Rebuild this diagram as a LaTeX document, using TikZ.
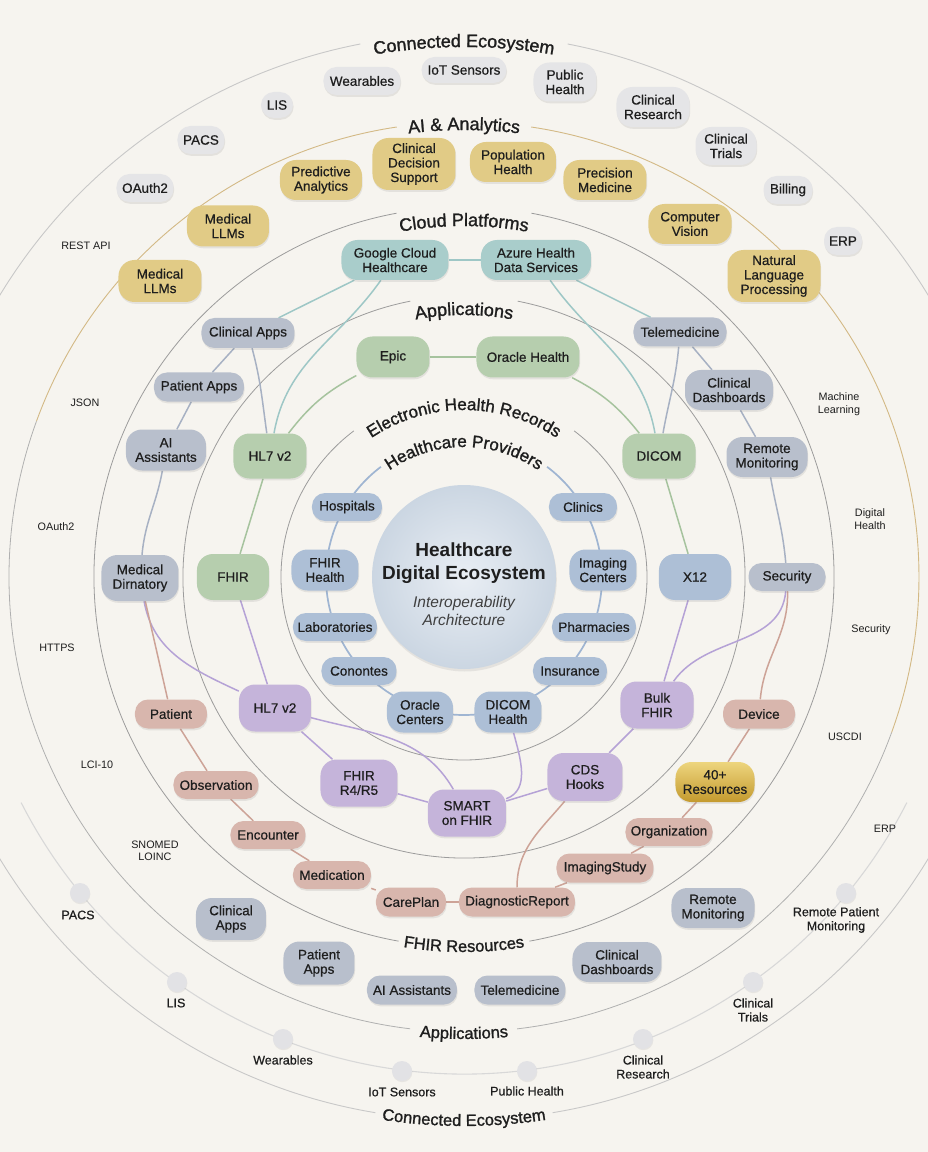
\documentclass[tikz,border=0pt]{standalone}
\usepackage{fontspec}
\setmainfont{Liberation Sans}
\setsansfont{Liberation Sans}
\newfontface\ringface{Liberation Sans}[RawFeature={embolden=1.3}]
\newfontface\ndface{Liberation Sans}[RawFeature={embolden=0.6}]
\usetikzlibrary{shadows}

\definecolor{bgcol}{HTML}{F6F4EF}
\definecolor{txt}{HTML}{1E1E1E}
\definecolor{provfill}{HTML}{ADBFD6}
\definecolor{provline}{HTML}{9FB5D2}
\definecolor{greenfill}{HTML}{B6CEAE}
\definecolor{greenline}{HTML}{A6C39E}
\definecolor{tealfill}{HTML}{A9CDCB}
\definecolor{tealline}{HTML}{9EC7C6}
\definecolor{appfill}{HTML}{B8BFCC}
\definecolor{appline}{HTML}{A7B1C3}
\definecolor{aifill}{HTML}{E1CB86}
\definecolor{ecofill}{HTML}{E5E5E7}
\definecolor{purfill}{HTML}{C5B4DA}
\definecolor{purline}{HTML}{B5A2D6}
\definecolor{resfill}{HTML}{D8B6AD}
\definecolor{resline}{HTML}{CDA397}
\definecolor{goldA}{HTML}{EDD57E}
\definecolor{goldB}{HTML}{C49A2E}
\definecolor{ringgray}{HTML}{9C9C9C}
\definecolor{ringlight}{HTML}{C8C8C8}
\definecolor{ringtan}{HTML}{D3B985}
\definecolor{dotring}{HTML}{D8D8D8}
\definecolor{hubin}{HTML}{E9EEF4}
\definecolor{hubout}{HTML}{CBD6E2}
\definecolor{dotfill}{HTML}{E2E2E5}

\newcommand{\myNodeFont}{\ndface\fontsize{13.5}{14.5}\selectfont}
\newcommand{\mySmallFont}{\fontsize{10.8}{12.5}\selectfont}
\newcommand{\myDotFont}{\ndface\fontsize{12.5}{14}\selectfont}
\newcommand{\myTopLab}{\ringface\fontsize{18}{18}\selectfont}
\newcommand{\myInLab}{\ringface\fontsize{17}{17}\selectfont}
\newcommand{\myBotLab}{\ringface\fontsize{16.5}{16.5}\selectfont}
\newcommand{\mknd}[6]{\node[#1,minimum width=#2pt,minimum height=#3pt] (#4) at (#5) {#6};}

% curved text: #1 font, #2 baseline radius, #3 centre angle, #4 1=top / -1=bottom, #5 text (~ = space)
\makeatletter
\newdimen\ct@w
\def\ct@stop{\ct@stop@}
\newcommand\curvetext[5]{%
  \def\ct@font{#1}\def\ct@r{#2}\def\ct@dir{#4}%
  \setbox0\hbox{\pgfinterruptpicture#1#5\endpgfinterruptpicture}\ct@w=\wd0\relax
  \pgfmathsetmacro\ct@ang{#3+(#4)*(\ct@w/(#2))*90/pi}%
  \ct@loop#5\ct@stop}
\def\ct@loop#1{%
  \ifx#1\ct@stop\else
    \setbox0\hbox{\pgfinterruptpicture\ct@font #1\endpgfinterruptpicture}\ct@w=\wd0\relax
    \pgfmathsetmacro\ct@mid{\ct@ang-(\ct@dir)*(\ct@w/\ct@r)*90/pi}%
    \pgfmathsetmacro\ct@rot{\ct@mid-90*(\ct@dir)}%
    \node[rotate=\ct@rot, anchor=base, inner sep=0pt, outer sep=0pt, font=\ct@font, text=txt] at (\ct@mid:\ct@r) {#1};%
    \pgfmathsetmacro\ct@ang{\ct@ang-(\ct@dir)*(\ct@w/\ct@r)*180/pi}%
    \expandafter\ct@loop
  \fi}
\makeatother

\pgfdeclarelayer{bg}
\pgfdeclarelayer{rings}
\pgfdeclarelayer{links}
\pgfsetlayers{bg,rings,links,main}

\tikzset{
  pill/.style={rectangle, rounded corners=13pt, inner sep=0pt, align=center,
    font=\myNodeFont, text=txt,
    drop shadow={opacity=0.16, shadow xshift=0.6pt, shadow yshift=-1.8pt}},
  tall/.style={rounded corners=16pt},
  prov/.style={pill, fill=provfill},
  grn/.style={pill, fill=greenfill},
  tealnd/.style={pill, fill=tealfill},
  app/.style={pill, fill=appfill},
  ainode/.style={pill, fill=aifill},
  eco/.style={pill, fill=ecofill},
  pur/.style={pill, fill=purfill},
  res/.style={pill, fill=resfill},
  goldnd/.style={pill, top color=goldA, bottom color=goldB},
  plainlab/.style={align=center, font=\mySmallFont, text=txt, inner sep=0pt},
  dotlab/.style={align=center, font=\myDotFont, text=txt, inner sep=0pt},
  dotnd/.style={circle, minimum size=20pt, inner sep=0pt, fill=dotfill,
    drop shadow={opacity=0.12, shadow xshift=0.4pt, shadow yshift=-1.2pt}},
  ringG/.style={draw=ringgray, line width=0.8pt},
  ringO/.style={draw=ringlight, line width=0.9pt},
  ringT/.style={draw=ringtan, line width=0.9pt},
  ringTg/.style={draw=ringgray!80, line width=0.8pt},
  ringD/.style={draw=dotring, line width=1.1pt},
  lk/.style={line width=1.5pt},
  lkprov/.style={lk, draw=provline, line width=1.7pt},
  lkgreen/.style={lk, draw=greenline},
  lkteal/.style={lk, draw=tealline},
  lkapp/.style={lk, draw=appline},
  lkpur/.style={lk, draw=purline},
  lkres/.style={lk, draw=resline}
}

\begin{document}
\begin{tikzpicture}[x=1pt,y=1pt]
\useasboundingbox (-464,-575) rectangle (464,577);
\begin{pgfonlayer}{bg}
  \fill[bgcol] (-464,-575) rectangle (464,577);
\end{pgfonlayer}

% ---------------- rings ----------------
\begin{pgfonlayer}{rings}
  \draw[ringO] (79:543) arc[start angle=79, end angle=-80.6, radius=543];
  \draw[ringO] (101:543) arc[start angle=101, end angle=260.6, radius=543];
  \draw[ringD] (207:497) arc[start angle=207, end angle=333, radius=497];
  \draw[ringT] (81.5:455) arc[start angle=81.5, end angle=-20, radius=455];
  \draw[ringTg] (-20:455) arc[start angle=-20, end angle=-83.3, radius=455];
  \draw[ringT] (98.5:455) arc[start angle=98.5, end angle=160, radius=455];
  \draw[ringTg] (160:455) arc[start angle=160, end angle=263.2, radius=455];
  \draw[ringG] (79.5:370) arc[start angle=79.5, end angle=-79.8, radius=370];
  \draw[ringG] (100.5:370) arc[start angle=100.5, end angle=259.8, radius=370];
  \draw[ringG] (79:281) arc[start angle=79, end angle=-259, radius=281];
  \draw[ringG] (53:183) arc[start angle=53, end angle=-233, radius=183];
  \draw[lkprov] (53:138) arc[start angle=53, end angle=-233, radius=138];
\end{pgfonlayer}

% ring labels
\curvetext{\myTopLab}{530}{90}{1}{Connected~Ecosystem}
\curvetext{\myTopLab}{447}{90}{1}{AI~\&~Analytics}
\curvetext{\myTopLab}{351}{90}{1}{Cloud~Platforms}
\curvetext{\myTopLab}{262}{90}{1}{Applications}
\curvetext{\myInLab}{167}{90}{1}{Electronic~Health~Records}
\curvetext{\myInLab}{130}{90}{1}{Healthcare~Providers}
\curvetext{\myBotLab}{375}{270}{-1}{FHIR~Resources}
\curvetext{\myBotLab}{462}{270}{-1}{Applications}
\curvetext{\myBotLab}{549}{270}{-1}{Connected~Ecosystem}

% ---------------- hub ----------------
\node[circle, minimum size=184pt, inner sep=0pt, inner color=hubin, outer color=hubout,
  drop shadow={opacity=0.15, shadow xshift=0.8pt, shadow yshift=-2.5pt}] (hub) at (0,0) {};
\node[align=center, font=\fontsize{19}{23}\selectfont\bfseries, text=txt] (title) at (0,13.5) {Healthcare\\Digital Ecosystem};
\node[align=center, font=\fontsize{15.5}{18}\selectfont\itshape, text=txt!85] (subtitle) at (0,-34) {Interoperability\\Architecture};

% ---------------- providers ----------------
\mknd{prov}{70}{28}{hosp}{-117,70}{Hospitals}
\mknd{prov}{68}{28}{clin}{119,70}{Clinics}
\mknd{prov,tall}{67}{41}{fhirh}{-139,7}{FHIR\\Health}
\mknd{prov,tall}{67}{41}{imgc}{139,7}{Imaging\\Centers}
\mknd{prov}{84}{28}{labs}{-129,-50}{Laboratories}
\mknd{prov}{84}{28}{pharm}{130,-50}{Pharmacies}
\mknd{prov}{75}{28}{conon}{-105,-94}{Conontes}
\mknd{prov}{74}{28}{insur}{106,-94}{Insurance}
\mknd{prov,tall}{66}{41}{orac}{-44,-135}{Oracle\\Centers}
\mknd{prov,tall}{67}{41}{dicomh}{44,-135}{DICOM\\Health}

% ---------------- EHR / applications ring ----------------
\mknd{grn,tall}{73}{41}{gEpic}{-71,220}{Epic}
\mknd{grn,tall}{103}{41}{gOH}{64,220}{Oracle Health}
\mknd{grn,tall}{73}{45}{gHL7}{-194,121}{HL7 v2}
\mknd{grn,tall}{73}{45}{gDICOM}{195,121}{DICOM}
\mknd{grn,tall}{72}{46}{gFHIR}{-231,0}{FHIR}
\mknd{prov,tall}{72}{46}{bX12}{231,0}{X12}

% ---------------- FHIR standards (purple) ----------------
\mknd{pur,tall}{72}{47}{uHL7}{-189,-131}{HL7 v2}
\mknd{pur,tall}{77}{47}{uR45}{-105,-206}{FHIR\\R4/R5}
\mknd{pur,tall}{78}{47}{uSMART}{3,-236}{SMART\\on FHIR}
\mknd{pur,tall}{75}{48}{uCDS}{121,-200}{CDS\\Hooks}
\mknd{pur,tall}{73}{47}{uBulk}{193,-128}{Bulk\\FHIR}

% ---------------- cloud ----------------
\mknd{tealnd,tall}{107}{40}{cGoogle}{-69,317}{Google Cloud\\Healthcare}
\mknd{tealnd,tall}{110}{40}{cAzure}{72,317}{Azure Health\\Data Services}

% ---------------- apps (gray) ----------------
\mknd{app}{93}{30}{pCA}{-216,244}{Clinical Apps}
\mknd{app}{90}{29}{pPA}{-265,190}{Patient Apps}
\mknd{app,tall}{80}{41}{pAI}{-298,127}{AI\\Assistants}
\mknd{app,tall}{77}{46}{pMD}{-324,-1}{Medical\\Dirnatory}
\mknd{app}{93}{29}{pTele}{216,245}{Telemedicine}
\mknd{app,tall}{88}{40}{pCD}{265,187}{Clinical\\Dashboards}
\mknd{app,tall}{81}{40}{pRM}{303,120}{Remote\\Monitoring}
\mknd{app}{77}{28}{pSec}{323,0}{Security}

\mknd{app,tall}{70}{42}{bCA}{-233,-342}{Clinical\\Apps}
\mknd{app,tall}{71}{43}{bPA}{-145,-386}{Patient\\Apps}
\mknd{app}{90}{29}{bAI}{-52,-413}{AI Assistants}
\mknd{app}{91}{29}{bTele}{56,-413}{Telemedicine}
\mknd{app,tall}{89}{40}{bCD}{153,-385}{Clinical\\Dashboards}
\mknd{app,tall}{83}{40}{bRM}{249,-331}{Remote\\Monitoring}

% ---------------- FHIR resources ----------------
\mknd{res}{72}{29}{rPat}{-293,-137}{Patient}
\mknd{res}{85}{28}{rObs}{-248,-208}{Observation}
\mknd{res}{75}{28}{rEnc}{-196,-258}{Encounter}
\mknd{res}{78}{28}{rMed}{-132,-298}{Medication}
\mknd{res}{70}{29}{rCare}{-53,-325}{CarePlan}
\mknd{res}{116}{29}{rDiag}{53,-325}{DiagnosticReport}
\mknd{res}{97}{29}{rImg}{141,-291}{ImagingStudy}
\mknd{res}{87}{28}{rOrg}{205,-255}{Organization}
\mknd{goldnd,tall}{79}{40}{r40}{251,-205}{40+\\Resources}
\mknd{res}{72}{29}{rDev}{295,-137}{Device}

% ---------------- AI & Analytics ----------------
\mknd{ainode,tall}{82}{40}{aPred}{-143,397}{Predictive\\Analytics}
\mknd{ainode,tall}{83}{52}{aCDS}{-50,413}{Clinical\\Decision\\Support}
\mknd{ainode,tall}{86}{40}{aPop}{49,415}{Population\\Health}
\mknd{ainode,tall}{83}{40}{aPrec}{141,397}{Precision\\Medicine}
\mknd{ainode,tall}{82}{41}{aLLMa}{-236,351}{Medical\\LLMs}
\mknd{ainode,tall}{83}{40}{aCV}{226,353}{Computer\\Vision}
\mknd{ainode,tall}{83}{42}{aLLMb}{-304,296}{Medical\\LLMs}
\mknd{ainode,tall}{93}{52}{aNLP}{310,301}{Natural\\Language\\Processing}

% ---------------- Connected ecosystem (top) ----------------
\mknd{eco}{77}{28}{eWear}{-102,496}{Wearables}
\mknd{eco}{85}{26}{eIoT}{0,507}{IoT Sensors}
\mknd{eco,tall}{63}{39}{ePub}{101,495}{Public\\Health}
\mknd{eco}{32}{26}{eLIS}{-187,472}{LIS}
\mknd{eco,tall}{73}{40}{eCR}{189,470}{Clinical\\Research}
\mknd{eco}{47}{28}{ePACS}{-263,437}{PACS}
\mknd{eco,tall}{61}{38}{eCT}{262,431}{Clinical\\Trials}
\mknd{eco}{57}{28}{eOAuth}{-319,389}{OAuth2}
\mknd{eco}{49}{28}{eBill}{324,387}{Billing}
\mknd{eco}{38}{28}{eERP}{379,336}{ERP}

% ---------------- plain labels ----------------
\node[plainlab] (tREST) at (-378,331) {REST API};
\node[plainlab] (tJSON) at (-379,174) {JSON};
\node[plainlab] (tOAuth) at (-408,50) {OAuth2};
\node[plainlab] (tHTTPS) at (-407,-71) {HTTPS};
\node[plainlab] (tLCI) at (-367,-188) {LCI-10};
\node[plainlab] (tSNOMED) at (-309,-274) {SNOMED\\LOINC};
\node[plainlab] (tML) at (375,173) {Machine\\Learning};
\node[plainlab] (tDH) at (406,58) {Digital\\Health};
\node[plainlab] (tSec) at (407,-53) {Security};
\node[plainlab] (tUSCDI) at (381,-160) {USCDI};
\node[plainlab] (tERP) at (421,-252) {ERP};

% ---------------- dots (bottom) ----------------
\node[dotnd] (dPACS) at (-384,-316) {};
\node[dotnd] (dLIS) at (-287,-405) {};
\node[dotnd] (dWear) at (-181,-462) {};
\node[dotnd] (dIoT) at (-62,-494) {};
\node[dotnd] (dPub) at (63,-494) {};
\node[dotnd] (dCR) at (179,-462) {};
\node[dotnd] (dCT) at (289,-405) {};
\node[dotnd] (dRPM) at (382,-316) {};
\node[dotlab] (lPACS) at (-386,-338) {PACS};
\node[dotlab] (lLIS) at (-288,-426) {LIS};
\node[dotlab] (lWear) at (-181,-483) {Wearables};
\node[dotlab] (lIoT) at (-62,-515) {IoT Sensors};
\node[dotlab] (lPub) at (63,-514) {Public Health};
\node[dotlab] (lCR) at (179,-490) {Clinical\\Research};
\node[dotlab] (lCT) at (289,-433) {Clinical\\Trials};
\node[dotlab] (lRPM) at (372,-343) {Remote Patient\\Monitoring};

% ---------------- connectors ----------------
\begin{pgfonlayer}{links}
  \draw[lkteal] (cGoogle) -- (cAzure);
  \draw[lkteal] (cGoogle) -- (pCA);
  \draw[lkteal] (cGoogle) to[out=235, in=80] (gHL7);
  \draw[lkteal] (cAzure) to[out=-55, in=100] (gDICOM);
  \draw[lkteal] (cAzure) -- (pTele);
  \draw[lkapp] (pCA) -- (pPA);
  \draw[lkapp] (pCA) to[out=-75, in=98] (gHL7);
  \draw[lkapp] (pPA) -- (pAI);
  \draw[lkapp] (pAI) to[out=-100, in=85] (pMD);
  \draw[lkapp] (pTele) -- (pCD);
  \draw[lkapp] (pCD) -- (pRM);
  \draw[lkapp] (pRM) to[out=-80, in=95] (pSec);
  \draw[lkapp] (pTele) to[out=-95, in=80] (gDICOM);
  \draw[lkgreen] (gEpic) -- (gOH);
  \draw[lkgreen] (gEpic) to[bend right=12] (gHL7);
  \draw[lkgreen] (gOH) to[bend left=12] (gDICOM);
  \draw[lkgreen] (gHL7) -- (gFHIR);
  \draw[lkgreen] (gDICOM) -- (bX12);
  \draw[lkpur] (gFHIR) -- (uHL7);
  \draw[lkpur] (pMD) to[out=-80, in=155] (uHL7);
  \draw[lkpur] (uHL7) -- (uR45);
  \draw[lkpur] (uHL7) to[out=-15, in=120] (uSMART);
  \draw[lkpur] (uR45) -- (uSMART);
  \draw[lkpur] (uSMART) to[out=20, in=-75] (dicomh);
  \draw[lkpur] (uSMART) -- (uCDS);
  \draw[lkpur] (uCDS) -- (uBulk);
  \draw[lkpur] (uBulk) -- (bX12);
  \draw[lkpur] (uBulk) to[out=55, in=-95] (pSec);
  \draw[lkres] (pMD) -- (rPat);
  \draw[lkres] (rPat) -- (rObs);
  \draw[lkres] (rObs) -- (rEnc);
  \draw[lkres] (rEnc) -- (rMed);
  \draw[lkres] (rMed) -- (rCare);
  \draw[lkres] (rCare) -- (rDiag);
  \draw[lkres] (rDiag) -- (rImg);
  \draw[lkres] (rImg) -- (rOrg);
  \draw[lkres] (rOrg) -- (r40);
  \draw[lkres] (r40) -- (rDev);
  \draw[lkres] (rDev) to[out=85, in=-88] (pSec);
  \draw[lkres] (rDiag) to[out=90, in=-130] (uCDS);
\end{pgfonlayer}
\end{tikzpicture}
\end{document}
